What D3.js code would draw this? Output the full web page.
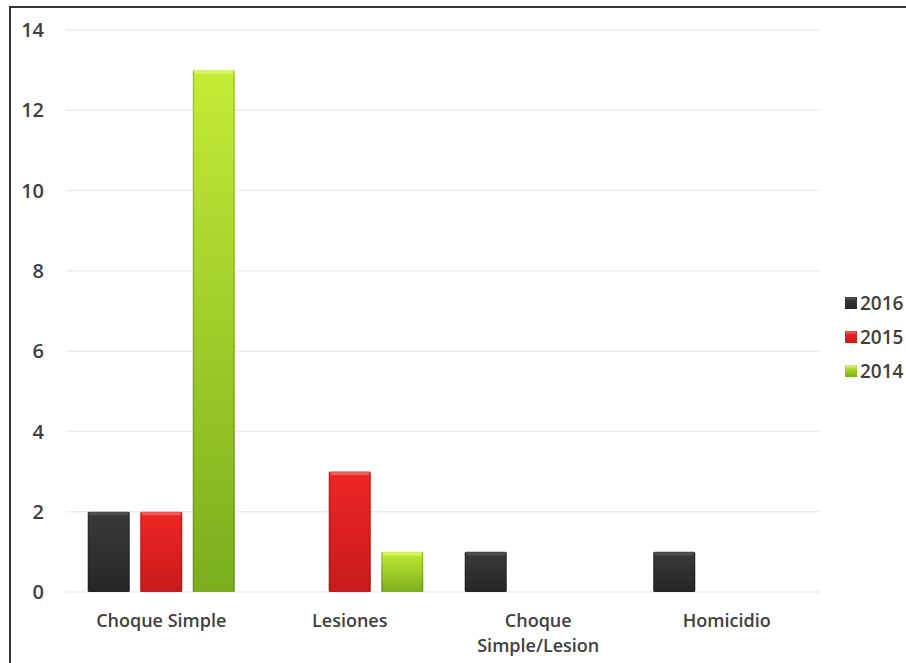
<!DOCTYPE html>
<html lang="es">
<head>
  <meta charset="UTF-8">
  <title>Choque Simple</title>
  <script src="https://d3js.org/d3.v7.min.js"></script>
  <style>
    body { margin: 0; background: #fff; }
    svg { display: block; }
    text { font-family: "Open Sans", "Noto Sans", sans-serif; fill: #404040; font-weight: 600; }
  </style>
</head>
<body>
  <svg id="chart" width="906" height="663"></svg>
  <script>
    const categories = ["Choque Simple", "Lesiones", "Choque Simple/Lesion", "Homicidio"];
    const catLabels = [["Choque Simple"], ["Lesiones"], ["Choque", "Simple/Lesion"], ["Homicidio"]];
    const years = ["2016", "2015", "2014"];
    const v2016 = [2, 0, 1, 1];
    const v2015 = [2, 3, 0, 0];
    const v2014 = [13, 1, 0, 0];
    const yTicks = [0, 2, 4, 6, 8, 10, 12, 14];

    const series = [v2016, v2015, v2014];
    const colors = [
      { top: "#3a3a3a", bottom: "#262626", edge: "#555" },
      { top: "#ee2624", bottom: "#c81b1b", edge: "#f26a66" },
      { top: "#c4ec36", bottom: "#7aae1d", edge: "#dcf57a" }
    ];

    const svg = d3.select("#chart");
    const defs = svg.append("defs");
    colors.forEach((c, i) => {
      const g = defs.append("linearGradient").attr("id", "grad" + i)
        .attr("x1", 0).attr("y1", 0).attr("x2", 0).attr("y2", 1);
      g.append("stop").attr("offset", "0%").attr("stop-color", c.top);
      g.append("stop").attr("offset", "100%").attr("stop-color", c.bottom);
    });

    // frame (top and left lines only)
    svg.append("line").attr("x1", 9).attr("x2", 906).attr("y1", 7).attr("y2", 7)
      .attr("stroke", "#333").attr("stroke-width", 2);
    svg.append("line").attr("x1", 10).attr("x2", 10).attr("y1", 6).attr("y2", 663)
      .attr("stroke", "#333").attr("stroke-width", 2);

    const plotLeft = 66, plotRight = 820, plotTop = 30, plotBottom = 592;

    const y = d3.scaleLinear().domain([0, 14]).range([plotBottom, plotTop]);
    const x0 = d3.scaleBand().domain(categories).range([plotLeft, plotRight]).paddingInner(0.22).paddingOuter(0.11);
    const x1 = d3.scaleBand().domain(years).range([0, x0.bandwidth()]).paddingInner(0.2);

    // gridlines
    svg.append("g").selectAll("line").data(yTicks).join("line")
      .attr("x1", plotLeft).attr("x2", plotRight)
      .attr("y1", d => y(d)).attr("y2", d => y(d))
      .attr("stroke", "#ececec").attr("stroke-width", 1.5);

    // y axis labels
    svg.append("g").selectAll("text").data(yTicks).join("text")
      .attr("x", 44).attr("y", d => y(d)).attr("dy", "0.36em")
      .attr("text-anchor", "end").attr("font-size", 20)
      .text(d => d);

    // bars
    const groups = svg.append("g").selectAll("g").data(categories).join("g")
      .attr("transform", c => `translate(${x0(c) + 1},0)`);

    groups.each(function (c, ci) {
      const g = d3.select(this);
      years.forEach((yr, si) => {
        const v = series[si][ci];
        if (!v) return;
        const bx = x1(yr), bw = x1.bandwidth();
        const by = y(v), bh = y(0) - y(v);
        g.append("rect").attr("x", bx).attr("y", by).attr("width", bw).attr("height", bh)
          .attr("fill", `url(#grad${si})`).attr("rx", 1.5);
        // bevel highlight on top
        g.append("rect").attr("x", bx + 1.5).attr("y", by + 0.5).attr("width", bw - 3).attr("height", 3)
          .attr("fill", colors[si].edge).attr("opacity", 0.8);
        // side shading
        g.append("rect").attr("x", bx).attr("y", by).attr("width", 1.5).attr("height", bh)
          .attr("fill", "#000").attr("opacity", 0.15);
        g.append("rect").attr("x", bx + bw - 1.5).attr("y", by).attr("width", 1.5).attr("height", bh)
          .attr("fill", "#000").attr("opacity", 0.15);
      });
    });

    // category labels
    svg.append("g").selectAll("text").data(categories).join("text")
      .attr("x", c => x0(c) + x0.bandwidth() / 2)
      .attr("y", 627)
      .attr("text-anchor", "middle").attr("font-size", 18)
      .each(function (c, i) {
        const t = d3.select(this);
        catLabels[i].forEach((line, li) => {
          t.append("tspan").attr("x", x0(c) + x0.bandwidth() / 2 + 1).attr("dy", li === 0 ? 0 : 25).text(line);
        });
      });

    // legend
    const legend = svg.append("g").selectAll("g").data(years).join("g")
      .attr("transform", (d, i) => `translate(845,${303 + i * 34})`);
    legend.append("rect").attr("x", 0).attr("y", -6).attr("width", 12).attr("height", 12)
      .attr("fill", (d, i) => `url(#grad${i})`);
    legend.append("rect").attr("x", 1).attr("y", -5.5).attr("width", 10).attr("height", 2)
      .attr("fill", (d, i) => colors[i].edge).attr("opacity", 0.8);
    legend.append("text").attr("x", 15).attr("dy", "0.36em").attr("font-size", 19).text(d => d);
  </script>
</body>
</html>
